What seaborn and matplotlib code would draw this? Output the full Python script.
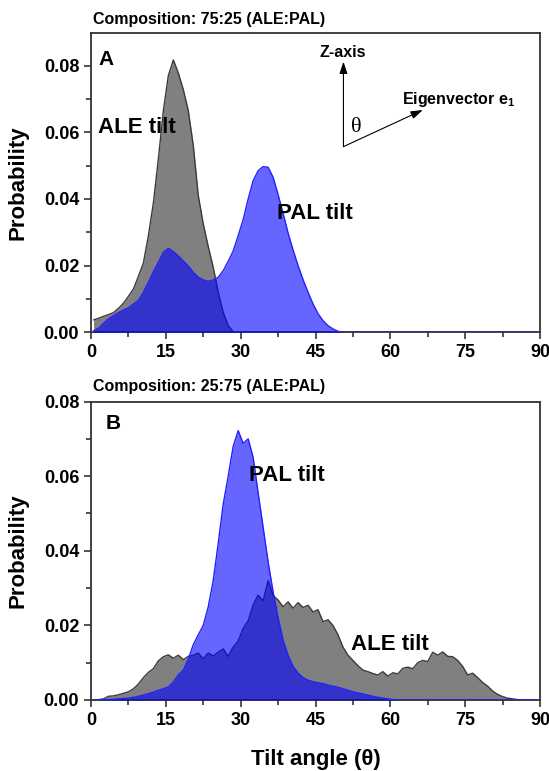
import numpy as np
import matplotlib
matplotlib.use("Agg")
import matplotlib.pyplot as plt
import seaborn as sns

# Tilt-angle bins (bin centres, degrees)
angles = np.arange(0.5, 90, 1.0)

# Panel A: composition 75:25 (ALE:PAL)
ale_a = [0.0037, 0.0042, 0.0048, 0.0053, 0.0059, 0.0072, 0.0087, 0.0108, 0.0130, 0.0168,
         0.0208, 0.0290, 0.0388, 0.0520, 0.0665, 0.0770, 0.0817, 0.0778, 0.0728, 0.0665,
         0.0560, 0.0410, 0.0325, 0.0257, 0.0195, 0.0120, 0.0060, 0.0020, 0.0002] + [0.0] * 61
pal_a = [0.0004, 0.0012, 0.0027, 0.0040, 0.0050, 0.0059, 0.0067, 0.0074, 0.0085, 0.0096,
         0.0120, 0.0150, 0.0182, 0.0210, 0.0240, 0.0252, 0.0242, 0.0229, 0.0214, 0.0199,
         0.0180, 0.0165, 0.0157, 0.0153, 0.0157, 0.0165, 0.0185, 0.0213, 0.0244, 0.0290,
         0.0338, 0.0400, 0.0455, 0.0485, 0.0497, 0.0495, 0.0465, 0.0413, 0.0357, 0.0298,
         0.0247, 0.0200, 0.0158, 0.0120, 0.0085, 0.0056, 0.0035, 0.0020, 0.0010, 0.0003] + [0.0] * 40

# Panel B: composition 25:75 (ALE:PAL)
ale_b = [0.0, 0.0001, 0.0003, 0.0010, 0.0011, 0.0014, 0.0018, 0.0022, 0.0030, 0.0043,
         0.0060, 0.0074, 0.0084, 0.0105, 0.0116, 0.0121, 0.0112, 0.0120, 0.0108, 0.0117,
         0.0120, 0.0126, 0.0110, 0.0126, 0.0118, 0.0128, 0.0137, 0.0117, 0.0142, 0.0158,
         0.0192, 0.0212, 0.0255, 0.0281, 0.0266, 0.0320, 0.0280, 0.0268, 0.0250, 0.0263,
         0.0246, 0.0261, 0.0248, 0.0254, 0.0236, 0.0242, 0.0210, 0.0215, 0.0200, 0.0175,
         0.0142, 0.0120, 0.0106, 0.0092, 0.0080, 0.0076, 0.0071, 0.0067, 0.0076, 0.0064,
         0.0073, 0.0070, 0.0085, 0.0088, 0.0084, 0.0100, 0.0106, 0.0103, 0.0128, 0.0120,
         0.0129, 0.0117, 0.0116, 0.0106, 0.0090, 0.0067, 0.0072, 0.0060, 0.0047, 0.0037,
         0.0024, 0.0015, 0.0009, 0.0005, 0.0003, 0.0001, 0.0, 0.0, 0.0, 0.0]
pal_b = [0.0, 0.0, 0.0001, 0.0001, 0.0002, 0.0003, 0.0004, 0.0005, 0.0007, 0.0010,
         0.0013, 0.0017, 0.0021, 0.0026, 0.0030, 0.0035, 0.0048, 0.0067, 0.0080, 0.0110,
         0.0148, 0.0175, 0.0200, 0.0250, 0.0320, 0.0420, 0.0525, 0.0600, 0.0680, 0.0722,
         0.0688, 0.0700, 0.0650, 0.0555, 0.0463, 0.0370, 0.0290, 0.0220, 0.0160, 0.0120,
         0.0090, 0.0072, 0.0060, 0.0053, 0.0049, 0.0046, 0.0044, 0.0040, 0.0037, 0.0034,
         0.0030, 0.0026, 0.0022, 0.0019, 0.0016, 0.0013, 0.0010, 0.0007, 0.0005, 0.0003,
         0.0001] + [0.0] * 29

sns.set_theme(style="ticks")
plt.rcParams["font.family"] = ["Liberation Sans", "DejaVu Sans"]
plt.rcParams["font.weight"] = "bold"
plt.rcParams["text.color"] = "black"
plt.rcParams["axes.labelcolor"] = "black"
plt.rcParams["xtick.color"] = "black"
plt.rcParams["ytick.color"] = "black"
plt.rcParams["mathtext.fontset"] = "custom"
plt.rcParams["mathtext.bf"] = "Liberation Sans:bold"
plt.rcParams["mathtext.rm"] = "Liberation Sans:bold"

fig = plt.figure(figsize=(5.49, 7.71), dpi=100)
ax1 = fig.add_axes([0.1658, 0.569, 0.8178, 0.3878])
ax2 = fig.add_axes([0.1658, 0.0921, 0.8178, 0.3871])


def draw(ax, ale, pal, ytop):
    ax.fill_between(angles, ale, color="#808080", lw=0, zorder=1)
    sns.lineplot(x=angles, y=ale, color="#3a3a3a", lw=1.0, ax=ax, zorder=2)
    ax.fill_between(angles, pal, color="#0000ff", alpha=0.6, lw=0, zorder=3)
    sns.lineplot(x=angles, y=pal, color="#2020ff", lw=1.0, ax=ax, zorder=4)
    ax.set_xlim(0, 90)
    ax.set_ylim(0, ytop)
    ax.set_xticks(np.arange(0, 91, 15))
    ax.set_xticks(np.arange(7.5, 90, 15), minor=True)
    ax.set_yticks(np.arange(0, 0.081, 0.02))
    ax.set_yticks(np.arange(0.01, ytop, 0.02), minor=True)
    ax.yaxis.set_major_formatter(matplotlib.ticker.FormatStrFormatter("%.2f"))
    ax.tick_params(which="major", direction="out", length=5, width=1.2,
                   labelsize=13, color="#333333")
    ax.tick_params(which="minor", direction="out", length=3.5, width=1.2, color="#333333")
    for lab in ax.get_xticklabels() + ax.get_yticklabels():
        lab.set_fontweight("bold")
    for sp in ax.spines.values():
        sp.set_linewidth(1.3)
        sp.set_color("#333333")
    ax.set_xlabel("")
    ax.set_ylabel("Probability", fontsize=16, fontweight="bold")
    ax.yaxis.set_label_coords(-0.14, 0.5)


draw(ax1, ale_a, pal_a, 0.0897)
draw(ax2, ale_b, pal_b, 0.08)

# Panel A annotations
ax1.text(0.005, 1.045, "Composition: 75:25 (ALE:PAL)", transform=ax1.transAxes,
         fontsize=11.5, fontweight="bold", va="center", ha="left")
ax1.text(1.5, 0.0817, "A", fontsize=15, fontweight="bold", va="center")
ax1.text(1.3, 0.0615, "ALE tilt", fontsize=16, fontweight="bold", va="center", zorder=6)
ax1.text(37.2, 0.0357, "PAL tilt", fontsize=16, fontweight="bold", va="center", zorder=6)

# inset sketch of the tilt angle
arrow = dict(arrowstyle="-|>,head_length=0.6,head_width=0.2", color="black", lw=0.8,
             shrinkA=0, shrinkB=0)
ax1.annotate("", xy=(50.6, 0.0812), xytext=(50.6, 0.0557), arrowprops=arrow)
ax1.annotate("", xy=(66.5, 0.0667), xytext=(50.6, 0.0557), arrowprops=arrow)
ax1.text(50.4, 0.0840, "Z-axis", fontsize=11.5, fontweight="bold", ha="center", va="center")
ax1.text(62.3, 0.0698, r"Eigenvector e$_\mathbf{1}$", fontsize=11.5, fontweight="bold",
         ha="left", va="center")
ax1.text(53.2, 0.0615, "θ", fontsize=16, family=["Liberation Serif"], fontweight="normal",
         ha="center", va="center")

# Panel B annotations
ax2.text(0.005, 1.05, "Composition: 25:75 (ALE:PAL)", transform=ax2.transAxes,
         fontsize=11.5, fontweight="bold", va="center", ha="left")
ax2.text(3.0, 0.0741, "B", fontsize=15, fontweight="bold", va="center")
ax2.text(31.7, 0.0602, "PAL tilt", fontsize=16, fontweight="bold", va="center", zorder=6)
ax2.text(52.1, 0.0150, "ALE tilt", fontsize=16, fontweight="bold", va="center", zorder=6)

ax2.set_xlabel("Tilt angle (θ)", fontsize=16, fontweight="bold")
ax2.xaxis.set_label_coords(0.5, -0.165)
ax2.xaxis.label.set_va("top")

plt.savefig("out.png", dpi=100)
